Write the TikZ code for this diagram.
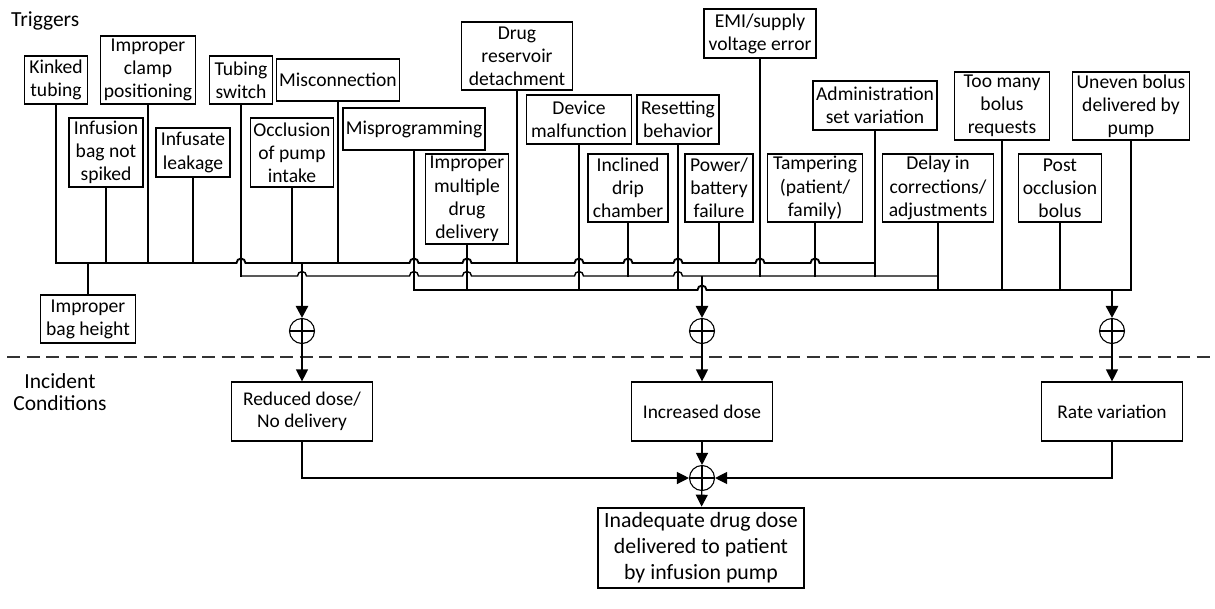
\documentclass[tikz,border=0pt]{standalone}
\usepackage{fontspec}
\setmainfont{Carlito}
\usetikzlibrary{arrows.meta}
\tikzset{
  trig/.style={draw, line width=1.2pt, inner sep=0pt, align=center,
    font=\fontsize{19.6}{23.2}\selectfont},
  cond/.style={draw, line width=1.2pt, inner sep=0pt, align=center,
    minimum width=141pt, minimum height=59pt, font=\fontsize{19.4}{22.5}\selectfont},
  topbox/.style={draw, line width=2.6pt, inner sep=0pt, align=center,
    minimum width=206pt, minimum height=80pt, font=\fontsize{21.8}{26}\selectfont},
  sumnode/.style={circle, draw, line width=1.1pt, minimum size=25pt, inner sep=0pt,
    path picture={\draw[line width=1.1pt]
      (path picture bounding box.north) -- (path picture bounding box.south)
      (path picture bounding box.west) -- (path picture bounding box.east);}},
  feed/.style={line width=1.5pt, line cap=rect},
  busmain/.style={line width=1.9pt, line cap=rect},
  busthin/.style={line width=1.4pt, line cap=rect},
  tiphead/.style={-{Triangle[length=12pt,width=12pt]}},
  heavyflow/.style={tiphead, line width=2.6pt},
  lightflow/.style={tiphead, line width=1.2pt},
  divider/.style={line width=1.5pt, black!80, dash pattern=on 13pt off 6.5pt},
  caption/.style={inner sep=0pt, align=center},
}
\begin{document}
\begin{tikzpicture}[x=1pt,y=1pt]
\useasboundingbox (0,0) rectangle (1215,-608);

% side captions and the divider between the two levels
\node[caption, anchor=base west, font=\fontsize{21.5}{25}\selectfont] (capTrig) at (11,-26) {Triggers};
\node[caption, font=\fontsize{21.5}{22.5}\selectfont] (capInc) at (60,-392) {Incident\\Conditions};
\draw[divider] (7,-357) -- (1215,-357);

% trigger boxes
\node[trig, minimum width=63pt, minimum height=48pt] (kinked) at (56,-80) {Kinked\\tubing};
\node[trig, minimum width=74pt, minimum height=69pt] (bagspike) at (106,-152.5) {Infusion\\bag not\\spiked};
\node[trig, minimum width=95pt, minimum height=68pt] (clamp) at (148,-70) {Improper\\clamp\\positioning};
\node[trig, minimum width=74pt, minimum height=49pt] (leak) at (193,-152.5) {Infusate\\leakage};
\node[trig, minimum width=63pt, minimum height=48pt] (tubeswitch) at (241,-80) {Tubing\\switch};
\node[trig, minimum width=123pt, minimum height=42pt] (misconn) at (338,-80) {Misconnection};
\node[trig, minimum width=83pt, minimum height=69pt] (intake) at (292,-152.5) {Occlusion\\of pump\\intake};
\node[trig, minimum width=142pt, minimum height=42pt] (misprog) at (414,-129) {Misprogramming};
\node[trig, minimum width=95pt, minimum height=48pt] (bagheight) at (88,-319) {Improper\\bag height};
\node[trig, minimum width=111pt, minimum height=68pt] (reservoir) at (517,-56) {Drug\\reservoir\\detachment};
\node[trig, minimum width=83pt, minimum height=90pt] (multidrug) at (467,-199) {Improper\\multiple\\drug\\delivery};
\node[trig, minimum width=105pt, minimum height=49pt] (malfunc) at (579,-119.5) {Device\\malfunction};
\node[trig, minimum width=80pt, minimum height=68pt] (drip) at (628,-188) {Inclined\\drip\\chamber};
\node[trig, minimum width=82pt, minimum height=49pt] (reset) at (678,-119.5) {Resetting\\behavior};
\node[trig, minimum width=68pt, minimum height=68pt] (power) at (719,-188) {Power/\\battery\\failure};
\node[trig, minimum width=112pt, minimum height=49pt] (emi) at (760,-33.5) {EMI/supply\\voltage error};
\node[trig, minimum width=95pt, minimum height=68pt] (tamper) at (815,-188) {Tampering\\(patient/\\family)};
\node[trig, minimum width=124pt, minimum height=49pt] (adminset) at (875,-105.5) {Administration\\set variation};
\node[trig, minimum width=111pt, minimum height=68pt] (delay) at (938,-188) {Delay in\\corrections/\\adjustments};
\node[trig, minimum width=95pt, minimum height=68pt] (bolusreq) at (1002,-106) {Too many\\bolus\\requests};
\node[trig, minimum width=83pt, minimum height=68pt] (postocc) at (1060,-188) {Post\\occlusion\\bolus};
\node[trig, minimum width=117pt, minimum height=68pt] (uneven) at (1131,-106) {Uneven bolus\\delivered by\\pump};

% levels of the three collector buses
\coordinate (busA) at (0,-263);
\coordinate (busB) at (0,-276);
\coordinate (busC) at (0,-290);

% feeders into bus A
\draw[feed] (kinked.south) -- (kinked.south |- busA);
\draw[feed] (bagspike.south) -- (bagspike.south |- busA);
\draw[feed] (clamp.south) -- (clamp.south |- busA);
\draw[feed] (leak.south) -- (leak.south |- busA);
\draw[feed] (intake.south) -- (intake.south |- busA);
\draw[feed] (misconn.south) -- (misconn.south |- busA);
\draw[feed] (reservoir.south) -- (reservoir.south |- busA);
\draw[feed] (power.south) -- (power.south |- busA);
\draw[feed] (bagheight.north) -- (bagheight.north |- busA);
% feeders into bus B
\draw[feed] (tubeswitch.south) -- (tubeswitch.south |- busB);
\draw[feed] (drip.south) -- (drip.south |- busB);
\draw[feed] (emi.south) -- (emi.south |- busB);
\draw[feed] (tamper.south) -- (tamper.south |- busB);
\draw[feed] (adminset.south) -- (adminset.south |- busB);
% feeders into bus C
\draw[feed] (misprog.south) -- (misprog.south |- busC);
\draw[feed] (multidrug.south) -- (multidrug.south |- busC);
\draw[feed] (malfunc.south) -- (malfunc.south |- busC);
\draw[feed] (reset.south) -- (reset.south |- busC);
\draw[feed] (delay.south) -- (delay.south |- busC);
\draw[feed] (bolusreq.south) -- (bolusreq.south |- busC);
\draw[feed] (postocc.south) -- (postocc.south |- busC);
\draw[feed] (uneven.south) -- (uneven.south |- busC);

% buses, with line jumps over crossing feeders
\draw[busmain] (56,-263)
  -- (236.5,-263) arc[start angle=180,end angle=0,radius=4.5]
  -- (409.5,-263) arc[start angle=180,end angle=0,radius=4.5]
  -- (462.5,-263) arc[start angle=180,end angle=0,radius=4.5]
  -- (574.5,-263) arc[start angle=180,end angle=0,radius=4.5]
  -- (623.5,-263) arc[start angle=180,end angle=0,radius=4.5]
  -- (673.5,-263) arc[start angle=180,end angle=0,radius=4.5]
  -- (755.5,-263) arc[start angle=180,end angle=0,radius=4.5]
  -- (810.5,-263) arc[start angle=180,end angle=0,radius=4.5]
  -- (875,-263);
\draw[busthin] (241,-276)
  -- (297.5,-276) arc[start angle=180,end angle=0,radius=4.5]
  -- (409.5,-276) arc[start angle=180,end angle=0,radius=4.5]
  -- (462.5,-276) arc[start angle=180,end angle=0,radius=4.5]
  -- (574.5,-276) arc[start angle=180,end angle=0,radius=4.5]
  -- (673.5,-276) arc[start angle=180,end angle=0,radius=4.5]
  -- (938,-276);
\draw[busmain] (414,-290)
  -- (697.5,-290) arc[start angle=180,end angle=0,radius=4.5]
  -- (1131,-290);

% summing junctions
\coordinate (tapA) at (302,-263);
\coordinate (tapB) at (702,-276);
\coordinate (tapC) at (1112,-290);
\node[sumnode] (sumA) at (302,-331) {};
\node[sumnode] (sumB) at (702,-331) {};
\node[sumnode] (sumC) at (1112,-331) {};
\draw[heavyflow] (tapA) -- (sumA);
\draw[heavyflow] (tapB) -- (sumB);
\draw[heavyflow] (tapC) -- (sumC);

% incident conditions
\node[cond] (reduced) at (302,-411.5) {Reduced dose/\\No delivery};
\node[cond] (increased) at (702,-411.5) {Increased dose};
\node[cond] (ratevar) at (1112,-411.5) {Rate variation};
\draw[lightflow] (sumA) -- (reduced);
\draw[lightflow] (sumB) -- (increased);
\draw[lightflow] (sumC) -- (ratevar);

% top event
\node[sumnode] (total) at (702,-478) {};
\node[topbox] (outcome) at (701,-548) {Inadequate drug dose\\delivered to patient\\by infusion pump};
\draw[lightflow] (reduced.south) |- (total);
\draw[lightflow] (increased) -- (total);
\draw[lightflow] (ratevar.south) |- (total);
\draw[lightflow] (total) -- (outcome);
\end{tikzpicture}
\end{document}
